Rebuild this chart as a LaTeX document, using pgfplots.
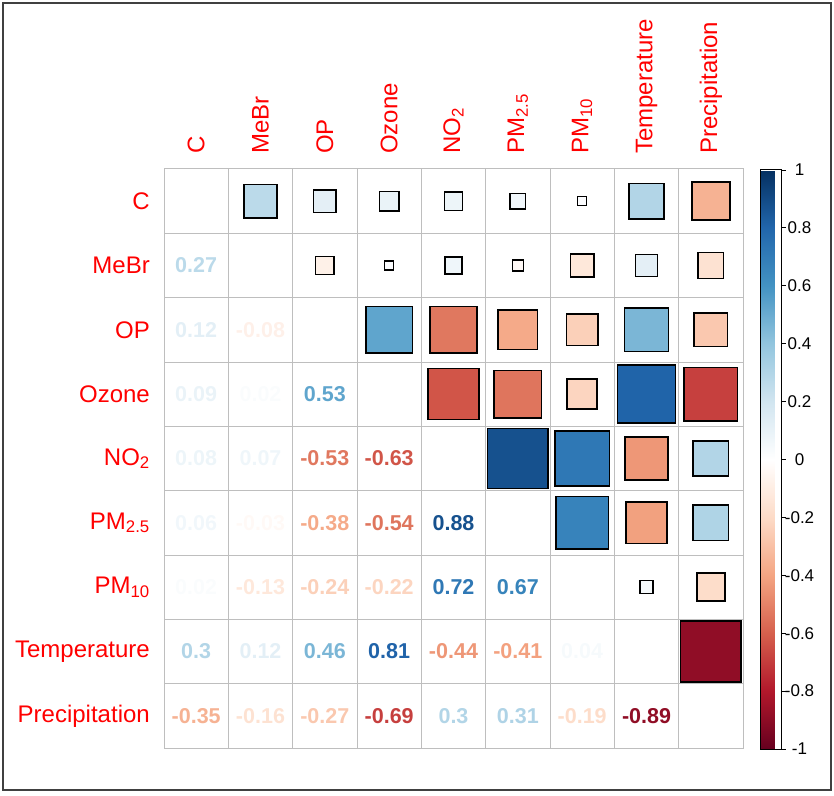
\documentclass[border=0pt]{standalone}
\usepackage{fontspec}
\setmainfont{Liberation Sans}
\usepackage{pgfplots}
\pgfplotsset{compat=1.18}
\usepackage{pgfplotstable}

\definecolor{gridgray}{HTML}{BEBEBE}
\definecolor{labelred}{HTML}{FF0000}
\definecolor{framegray}{HTML}{404040}

\pgfplotsset{
  colormap={RdBu}{
    rgb255(0cm)=(103,0,31); rgb255(1cm)=(178,24,43); rgb255(2cm)=(214,96,77);
    rgb255(3cm)=(244,165,130); rgb255(4cm)=(253,219,199); rgb255(5cm)=(255,255,255);
    rgb255(6cm)=(209,229,240); rgb255(7cm)=(146,197,222); rgb255(8cm)=(67,147,195);
    rgb255(9cm)=(33,102,172); rgb255(10cm)=(5,48,97)
  }
}

% lower triangle: printed coefficients (x = column, y = 10 - row)
\pgfplotstableread{
x y r
1 8 0.27
1 7 0.12
2 7 -0.08
1 6 0.09
2 6 0.02
3 6 0.53
1 5 0.08
2 5 0.07
3 5 -0.53
4 5 -0.63
1 4 0.06
2 4 -0.03
3 4 -0.38
4 4 -0.54
5 4 0.88
1 3 0.02
2 3 -0.13
3 3 -0.24
4 3 -0.22
5 3 0.72
6 3 0.67
1 2 0.3
2 2 0.12
3 2 0.46
4 2 0.81
5 2 -0.44
6 2 -0.41
7 2 0.04
1 1 -0.35
2 1 -0.16
3 1 -0.27
4 1 -0.69
5 1 0.3
6 1 0.31
7 1 -0.19
8 1 -0.89
}\lowertab

% upper triangle: squares, same coefficients mirrored
\pgfplotstableread{
x y r
2 9 0.27
3 9 0.12
3 8 -0.08
4 9 0.09
4 8 0.02
4 7 0.53
5 9 0.08
5 8 0.07
5 7 -0.53
5 6 -0.63
6 9 0.06
6 8 -0.03
6 7 -0.38
6 6 -0.54
6 5 0.88
7 9 0.02
7 8 -0.13
7 7 -0.24
7 6 -0.22
7 5 0.72
7 4 0.67
8 9 0.3
8 8 0.12
8 7 0.46
8 6 0.81
8 5 -0.44
8 4 -0.41
8 3 0.04
9 9 -0.35
9 8 -0.16
9 7 -0.27
9 6 -0.69
9 5 0.3
9 4 0.31
9 3 -0.19
9 2 -0.89
}\uppertab

\begin{document}
\begin{tikzpicture}
\useasboundingbox (0,0) rectangle (834pt,795pt);
\draw[line width=2pt, draw=framegray] (3pt,5pt) rectangle (831pt,792pt);

\begin{axis}[
    at={(164pt,47pt)}, anchor=south west,
    scale only axis, width=579pt, height=579pt,
    xmin=0.5, xmax=9.5, ymin=0.5, ymax=9.5,
    xtick={1,2,3,4,5,6,7,8,9}, ytick={1,2,3,4,5,6,7,8,9},
    xticklabels={C, MeBr, OP, Ozone, NO\textsubscript{2}, PM\textsubscript{2.5}, PM\textsubscript{10}, Temperature, Precipitation},
    yticklabels={Precipitation, Temperature, PM\textsubscript{10}, PM\textsubscript{2.5}, NO\textsubscript{2}, Ozone, OP, MeBr, C},
    xticklabel pos=upper,
    minor xtick={1.5,2.5,3.5,4.5,5.5,6.5,7.5,8.5},
    minor ytick={1.5,2.5,3.5,4.5,5.5,6.5,7.5,8.5},
    grid=minor, minor grid style={draw=gridgray, line width=1pt},
    major tick length=0pt, minor tick length=0pt,
    tick style={draw=none},
    axis line style={draw=gridgray, line width=1pt},
    tick label style={font=\fontsize{24}{28}\selectfont, text=labelred},
    x tick label style={rotate=90, anchor=west, inner sep=0pt},
    xticklabel shift=15pt,
    y tick label style={anchor=east, inner sep=0pt},
    yticklabel shift=14pt,
    colormap name=RdBu, point meta min=-1, point meta max=1,
    colorbar,
    colorbar style={
        at={(parent axis.north east)}, anchor=north west,
        xshift=9pt, yshift=-1pt,
        width=21pt,
        ytick={-1,-0.8,-0.6,-0.4,-0.2,0,0.2,0.4,0.6,0.8,1},
        yticklabels={-1,-0.8,-0.6,-0.4,-0.2,0,0.2,0.4,0.6,0.8,1},
        ytick pos=right,
        major tick length=4pt, tick align=outside,
        ytick style={draw=black, line width=0.8pt},
        axis line style={draw=black, line width=1pt},
        yticklabel style={font=\fontsize{17}{20}\selectfont, text=black, anchor=center, xshift=14pt},
    },
    clip=false,
]

% squares: side grows with sqrt(|r|); transformed meta runs 0..1000 for -1..1
\addplot[scatter, only marks, mark=square*,
    point meta=explicit,
    scatter/use mapped color={draw=black, fill=mapped color},
    scatter/@pre marker code/.append style={%
        /tikz/mark size={32.15*sqrt(abs(\pgfplotspointmetatransformed-500)/500)}},
    mark options={line width=1.5pt},
] table[x=x, y=y, meta=r] {\uppertab};

% coefficients as text marks, coloured by the same map
\addplot[scatter, only marks, mark=text,
    point meta=explicit,
    text mark as node=true,
    text mark={\pgfmathprintnumber[fixed, precision=2, assume math mode=true]{\pgfplotspointmeta}},
    text mark style={font=\bfseries\fontsize{21.5}{25}\selectfont, anchor=center, inner sep=0pt},
    scatter/use mapped color={draw=mapped color, fill=mapped color, text=mapped color},
] table[x=x, y=y, meta=r] {\lowertab};

\end{axis}
\end{tikzpicture}
\end{document}
